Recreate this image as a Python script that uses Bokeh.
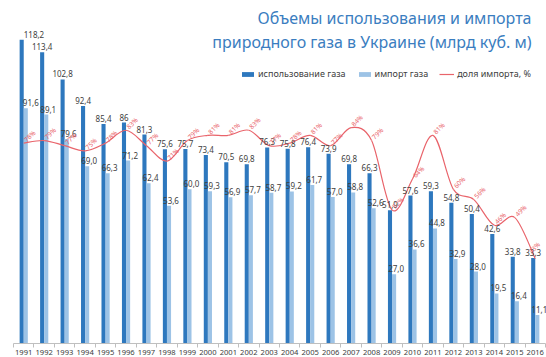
import math
from bokeh.plotting import figure
from bokeh.models import (ColumnDataSource, Range1d, FixedTicker, Label, Legend, LegendItem,
                          CDSView, IndexFilter)
from bokeh.transform import dodge
from bokeh.core.properties import value
from bokeh.embed import file_html
from bokeh.resources import INLINE

years = list(range(1991, 2017))
usage = [118.2, 113.4, 102.8, 92.4, 85.4, 86, 81.3, 75.6, 75.7, 73.4, 70.5, 69.8, 76.3,
         75.8, 76.4, 73.9, 69.8, 66.3, 51.9, 57.6, 59.3, 54.8, 50.4, 42.6, 33.8, 33.3]
imports = [91.6, 89.1, 79.6, 69.0, 66.3, 71.2, 62.4, 53.6, 60.0, 59.3, 56.9, 57.7, 58.7,
           59.2, 61.7, 57.0, 58.8, 52.6, 27.0, 36.6, 44.8, 32.9, 28.0, 19.5, 16.4, 11.1]
share = [78, 79, 77, 75, 78, 83, 77, 71, 79, 81, 81, 83, 77,
         78, 81, 77, 84, 79, 52, 64, 81, 60, 56, 46, 49, 33]

title1 = "Объемы использования и импорта"
title2 = "природного газа в Украине (млрд куб. м)"
legend_labels = ["использование газа", "импорт газа", "доля импорта, %"]

DARK = "#2E78BE"
LIGHT = "#9DC3E6"
RED = "#E9646B"
TXT = "#404040"
FONT = "Noto Sans"

W, H = 546, 357
FL, FR, FB = 13, 545, 340   # px positions of first/last category edges and baseline
YMAX = 133.5
x0, x1 = years[0] - 0.5, years[-1] + 0.5

def xd(px):
    return x0 + (px - FL) * (x1 - x0) / (FR - FL)

def yd(py):
    return (FB - py) * YMAX / FB

def fmt(v):
    return str(v).replace(".", ",")

src = ColumnDataSource(dict(
    year=years, usage=usage, imports=imports, share=share,
    ulab=[fmt(v) for v in usage], ilab=[fmt(v) for v in imports],
    slab=[f"{v}%" for v in share],
))

p = figure(width=W, height=H, output_backend="svg", toolbar_location=None,
           x_range=Range1d(xd(0), xd(W)), y_range=Range1d(0, YMAX),
           min_border_left=0, min_border_right=0, min_border_top=0, min_border_bottom=0)
p.outline_line_color = None
p.grid.visible = False
p.yaxis.visible = False
p.background_fill_color = "white"

xa = p.xaxis[0]
xa.bounds = (x0, x1)
xa.ticker = FixedTicker(ticks=years, minor_ticks=[y - 0.5 for y in years] + [years[-1] + 0.5])
xa.major_tick_out = 4
xa.major_tick_in = 0
xa.major_tick_line_color = None
xa.minor_tick_out = 4
xa.minor_tick_in = 0
xa.minor_tick_line_color = "#BFBFBF"
xa.axis_line_color = "#BFBFBF"
xa.major_label_standoff = 2
xa.major_label_text_font_size = "7.6px"
xa.major_label_text_color = TXT
xa.major_label_text_font = FONT

bw = 0.2
r_usage = p.vbar(x=dodge("year", -0.1, range=p.x_range), top="usage", width=bw, bottom=0,
                 source=src, fill_color=DARK, line_color=None)
r_imp = p.vbar(x=dodge("year", 0.1, range=p.x_range), top="imports", width=bw, bottom=0,
               source=src, fill_color=LIGHT, line_color=None)

# smooth line (Catmull-Rom -> cubic bezier) through the share points
n = len(years)
bx0, by0, bx1, by1, cx0, cy0, cx1, cy1 = ([] for _ in range(8))
for i in range(n - 1):
    pm = i - 1 if i > 0 else i
    pp = i + 2 if i + 2 < n else i + 1
    bx0.append(years[i]); by0.append(share[i])
    bx1.append(years[i + 1]); by1.append(share[i + 1])
    cx0.append(years[i] + (years[i + 1] - years[pm]) / 6)
    cy0.append(share[i] + (share[i + 1] - share[pm]) / 6)
    cx1.append(years[i + 1] - (years[pp] - years[i]) / 6)
    cy1.append(share[i + 1] - (share[pp] - share[i]) / 6)
r_line = p.bezier(x0=bx0, y0=by0, x1=bx1, y1=by1, cx0=cx0, cy0=cy0, cx1=cx1, cy1=cy1,
                  line_color=RED, line_width=1.2)

lab_kw = dict(text_font=value(FONT), text_font_size="8px", text_color=TXT,
              text_baseline="bottom", y_offset=-2)
first = CDSView(filter=IndexFilter([0]))
rest = CDSView(filter=IndexFilter(list(range(1, n))))
p.text(x=dodge("year", -0.1, range=p.x_range), y="usage", text="ulab", source=src,
       view=rest, text_align="center", **lab_kw)
p.text(x=dodge("year", 0.0, range=p.x_range), y="usage", text="ulab", source=src,
       view=first, text_align="left", **lab_kw)
p.text(x=dodge("year", 0.1, range=p.x_range), y="imports", text="ilab", source=src,
       view=rest, text_align="center", x_offset=2, **lab_kw)
p.text(x=dodge("year", 0.1, range=p.x_range), y="imports", text="ilab", source=src,
       view=first, text_align="center", x_offset=5, **lab_kw)

pct_kw = dict(angle=math.pi / 4, text_font=value(FONT), text_font_size="6.5px",
              text_color=RED, text_align="center", text_baseline="middle")
p.text(x="year", y="share", text="slab", source=src,
       view=CDSView(filter=IndexFilter(list(range(0, n - 1)))),
       x_offset=6, y_offset=-7, **pct_kw)
p.text(x="year", y="share", text="slab", source=src,
       view=CDSView(filter=IndexFilter([n - 1])),
       x_offset=-1, y_offset=-11, **pct_kw)

for txt, py in [(title1, 17), (title2, 41)]:
    p.add_layout(Label(x=xd(531), y=yd(py), text=txt, text_align="right",
                       text_baseline="middle", text_font=FONT, text_font_size="16px",
                       text_color="#3A7DC0"))

legend = Legend(items=[LegendItem(label=legend_labels[0], renderers=[r_usage]),
                       LegendItem(label=legend_labels[1], renderers=[r_imp]),
                       LegendItem(label=legend_labels[2], renderers=[r_line])],
                orientation="horizontal", location=(240, FB - 77),
                border_line_color=None, background_fill_alpha=0,
                padding=0, margin=0, spacing=11, label_standoff=3,
                glyph_width=15, glyph_height=6, label_height=12,
                label_text_font=FONT, label_text_font_size="9px", label_text_color=TXT)
p.add_layout(legend)

open("out.html", "w").write(file_html(p, INLINE))
